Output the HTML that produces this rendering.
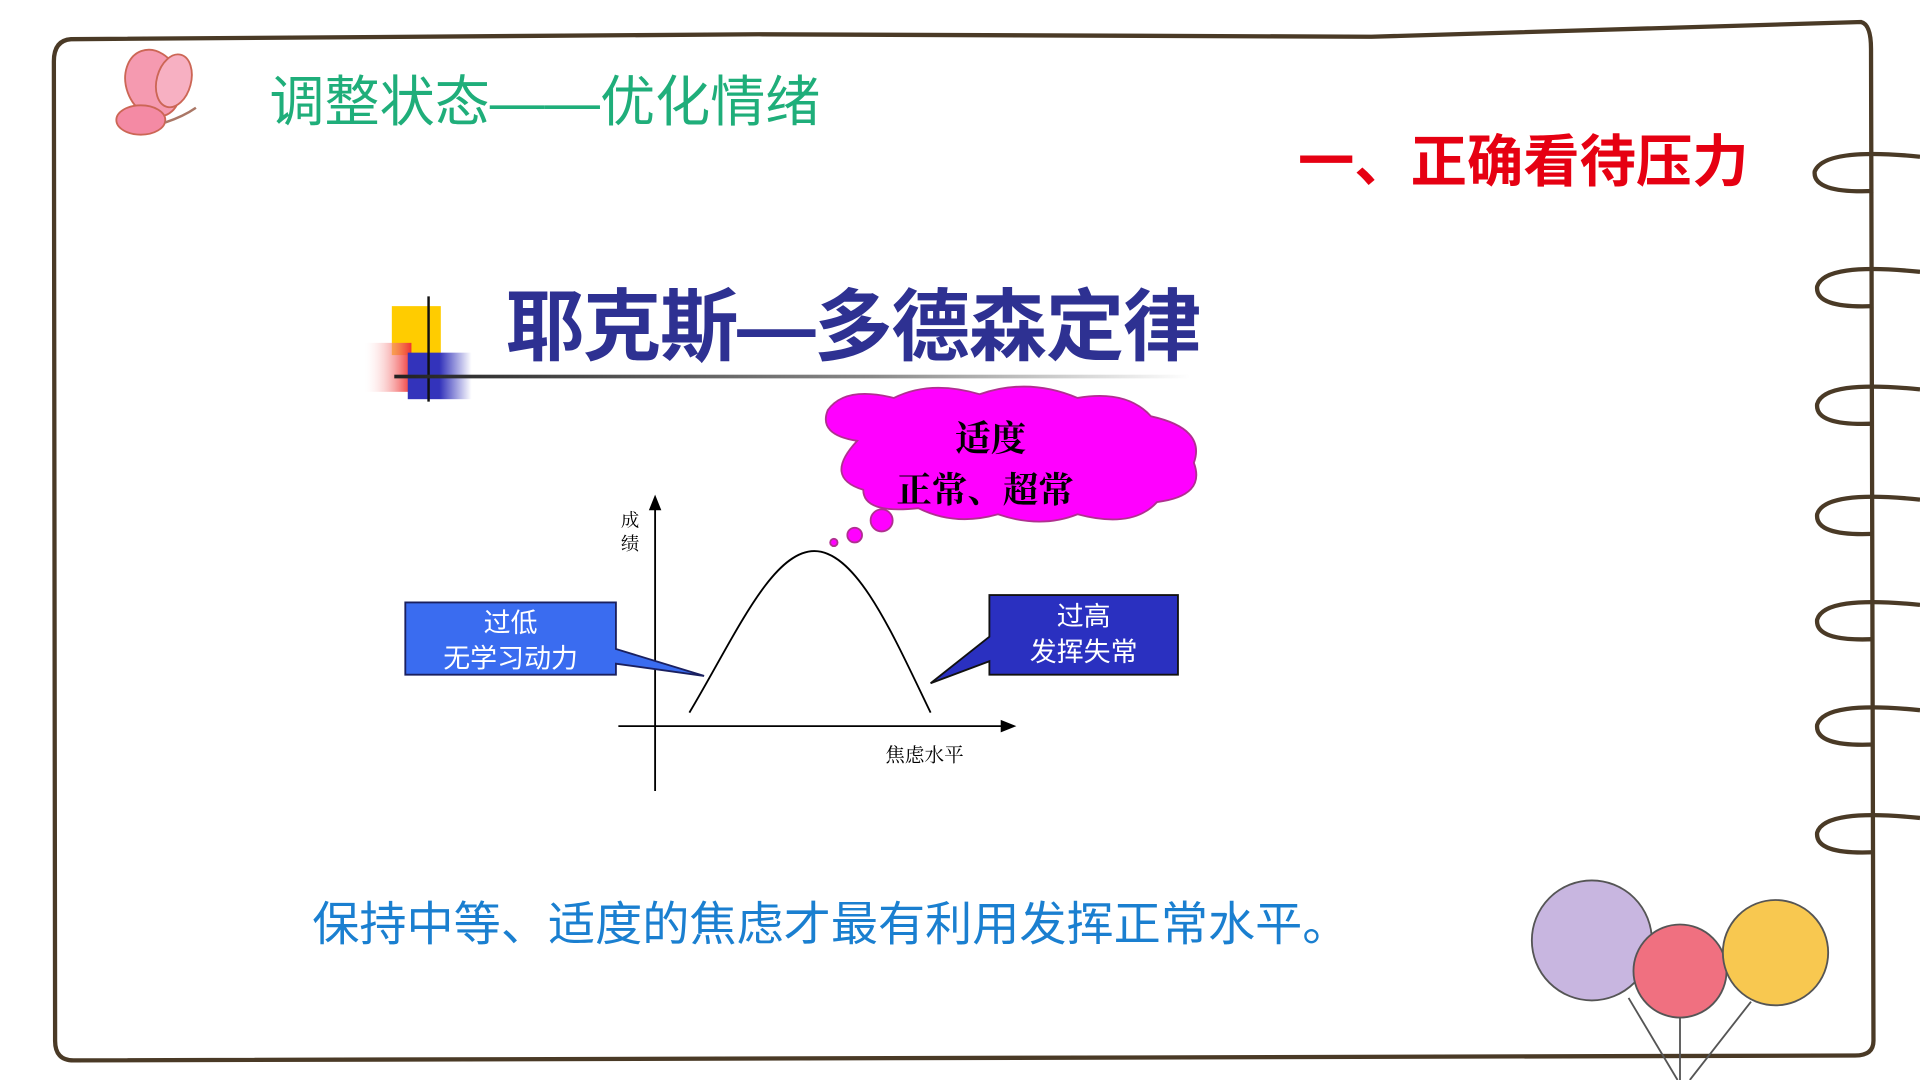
<!DOCTYPE html>
<html><head><meta charset="utf-8">
<style>
html,body{margin:0;padding:0;background:#fff;overflow:hidden;width:1920px;height:1080px}
#s{position:absolute;left:0;top:0;width:1568px;height:882px;transform:scale(1.22449);transform-origin:0 0;font-family:"Liberation Sans","Noto Sans CJK SC",sans-serif}
.t{position:absolute;white-space:nowrap}
</style></head><body><div id="s">
<svg width="1568" height="882" style="position:absolute;left:0;top:0">
<defs>
<linearGradient id="hl" x1="0" x2="1"><stop offset="0" stop-color="#222"/><stop offset="0.6" stop-color="#888"/><stop offset="1" stop-color="#fff"/></linearGradient>
<linearGradient id="rd" x1="0" x2="1"><stop offset="0" stop-color="#fff" stop-opacity="0"/><stop offset="1" stop-color="#e33"/></linearGradient>
<linearGradient id="bl" x1="0" x2="1"><stop offset="0.5" stop-color="#3333bb"/><stop offset="1" stop-color="#fff"/></linearGradient>
</defs>
<path d="M58 32 L620 28 L1120 30 L1520 18 Q1528 20 1528 40 L1530 850 Q1530 862 1515 862 L60 866 Q45 866 45 850 L44 50 Q44 33 58 32 Z" fill="none" stroke="#4a3a26" stroke-width="3.5"/>
<g fill="none" stroke="#4a3a26" stroke-width="3.5">
<path d="M1568 128 Q1490 120 1482 140 Q1480 158 1530 156"/>
<path d="M1568 222 Q1490 214 1484 234 Q1482 252 1530 250"/>
<path d="M1568 318 Q1490 310 1484 330 Q1482 348 1530 346"/>
<path d="M1568 408 Q1490 400 1484 420 Q1482 438 1530 436"/>
<path d="M1568 494 Q1490 486 1484 506 Q1482 524 1530 522"/>
<path d="M1568 580 Q1490 572 1484 592 Q1482 610 1530 608"/>
<path d="M1568 668 Q1490 660 1484 680 Q1482 698 1530 696"/>
</g>
<g>
<ellipse cx="125" cy="68" rx="22" ry="28" fill="#f59ab0" stroke="#c65" stroke-width="1.5" transform="rotate(-20 125 68)"/>
<ellipse cx="142" cy="66" rx="14" ry="22" fill="#f7b0c2" stroke="#c65" stroke-width="1.5" transform="rotate(15 142 66)"/>
<ellipse cx="115" cy="98" rx="20" ry="12" fill="#f48aa4" stroke="#c65" stroke-width="1.5"/>
<path d="M135 100 Q150 95 160 88" stroke="#a76" stroke-width="2" fill="none"/>
</g>
<rect x="320" y="250" width="40" height="40" fill="#ffcc00"/>
<rect x="296" y="280" width="40" height="40" fill="url(#rd)"/>
<rect x="333" y="288" width="52" height="38" fill="url(#bl)"/>
<line x1="350" y1="242" x2="350" y2="328" stroke="#111" stroke-width="2"/>
<rect x="322" y="306" width="650" height="3" fill="url(#hl)"/>
<g fill="#ff00ff" stroke="#b03090" stroke-width="1.5">
<path d="M700 360 Q668 355 676 335 Q690 315 730 325 Q760 310 800 322 Q840 308 880 325 Q920 318 940 340 Q985 350 975 378 Q985 405 945 410 Q925 432 880 420 Q850 432 815 420 Q780 430 750 415 Q705 420 705 400 Q672 390 700 360 Z"/>
<circle cx="720" cy="425" r="9"/><circle cx="698" cy="437" r="6"/><circle cx="681" cy="443" r="3"/>
</g>
<g stroke="#000" stroke-width="1.5" fill="#000">
<line x1="535" y1="414" x2="535" y2="646"/><path d="M531 416 L535 406 L539 416 Z"/>
<line x1="505" y1="593" x2="820" y2="593"/><path d="M818 589 L828 593 L818 597 Z"/>
</g>
<path d="M563 582 C600 520 630 450 665 450 C700 450 730 520 760 582" fill="none" stroke="#000" stroke-width="1.5"/>
<path d="M331 492 H503 V530 L575 552 L503 542 V551 H331 Z" fill="#3a6cf0" stroke="#1a2060" stroke-width="1.5"/>
<path d="M808 486 H962 V551 H808 V540 L760 558 L808 520 Z" fill="#2a30c0" stroke="#111" stroke-width="1.5"/>
<g stroke="#555" stroke-width="1.5">
<line x1="1330" y1="815" x2="1370" y2="882"/><line x1="1372" y1="830" x2="1372" y2="882"/><line x1="1430" y1="818" x2="1380" y2="882"/>
<circle cx="1300" cy="768" r="49" fill="#c8b6e0"/>
<circle cx="1372" cy="793" r="38" fill="#f07080"/>
<circle cx="1450" cy="778" r="43" fill="#f8c850"/>
</g>
</svg>
<div class="t" style="left:220px;top:47px;font-size:45px;color:#1fae7a">调整状态——优化情绪</div>
<div class="t" style="left:1060px;top:96px;font-size:46px;font-weight:bold;color:#e60012">一、正确看待压力</div>
<div class="t" style="left:413px;top:216px;font-size:64px;font-weight:bold;color:#2e3192;letter-spacing:-1px">耶克斯—多德森定律</div>
<div class="t" style="left:780px;top:336px;font-size:29px;font-weight:bold;font-family:'Liberation Serif','Noto Serif CJK SC',serif">适度</div>
<div class="t" style="left:732px;top:378px;font-size:29px;font-weight:bold;font-family:'Liberation Serif','Noto Serif CJK SC',serif">正常、超常</div>
<div class="t" style="left:507px;top:417px;font-size:15px;line-height:19px;font-family:'Liberation Serif','Noto Serif CJK SC',serif">成<br>绩</div>
<div class="t" style="left:723px;top:604px;font-size:16px;font-family:'Liberation Serif','Noto Serif CJK SC',serif">焦虑水平</div>
<div class="t" style="left:331px;width:172px;top:494px;font-size:22px;line-height:29px;color:#fff;text-align:center">过低<br>无学习动力</div>
<div class="t" style="left:808px;width:154px;top:489px;font-size:22px;line-height:29px;color:#fff;text-align:center">过高<br>发挥失常</div>
<div class="t" style="left:255px;top:724px;font-size:38.5px;color:#1a7fd0">保持中等、适度的焦虑才最有利用发挥正常水平。</div>
</div></body></html>
